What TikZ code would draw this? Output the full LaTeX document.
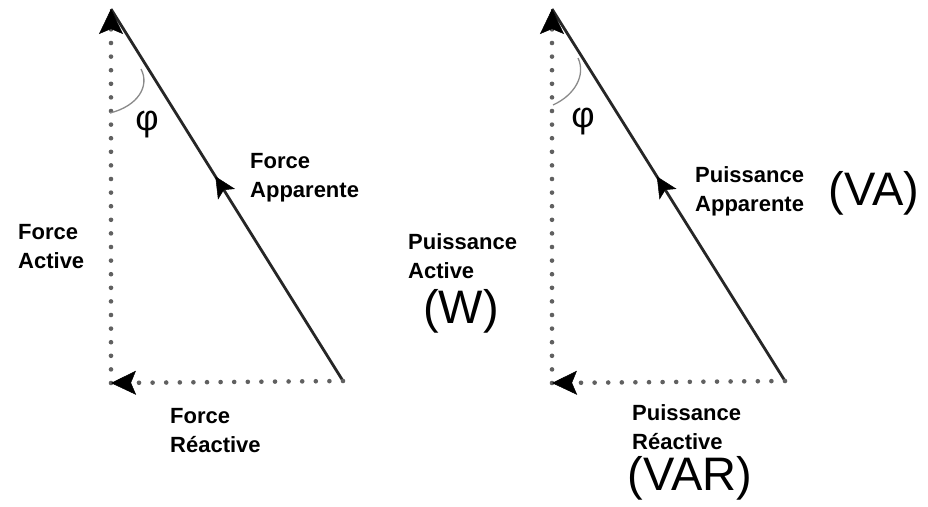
\documentclass[tikz,border=0pt]{standalone}
\usepackage{fontspec}
\setmainfont{Liberation Sans}
\usetikzlibrary{arrows.meta,decorations.markings}
\definecolor{dotgray}{HTML}{606060}
\definecolor{vecgray}{HTML}{262626}
\definecolor{arcgray}{HTML}{8A8A8A}
\begin{document}
\begin{tikzpicture}[x=1pt,y=-1pt,
 dots/.style={draw=dotgray, line width=4.6pt, line cap=round, dash pattern=on 0pt off 13.6pt},
 vec/.style={draw=vecgray, line width=2.8pt},
 tipend/.style={-{Stealth[length=25pt,width=24pt,inset=5pt,color=black,line width=0.5pt]}},
 lbl/.style={font=\fontsize{22}{29}\selectfont\bfseries, align=left, inner sep=0pt, anchor=west, text=black},
 unit/.style={font=\fontsize{47}{50}\selectfont, inner sep=0pt, text=black},
 phisym/.style={font=\fontsize{36}{40}\selectfont, inner sep=0pt, text=black},
 arcline/.style={draw=arcgray, line width=1.3pt},
 midarrow/.style={postaction={decorate}, decoration={markings, mark=at position 0.55 with {\arrow{Stealth[length=21pt,width=20pt,inset=5pt,color=black,line width=0.5pt]}}}}
]
\useasboundingbox[fill=white] (0,0) rectangle (928,506);

% left triangle
\coordinate (A) at (111,9);
\coordinate (B) at (111,383);
\coordinate (C) at (343,381);
\coordinate (a1) at (110,113);
\coordinate (a2) at (141,69);
\draw[vec, midarrow] (C) -- (A);
\draw[dots, tipend] (B) -- (A);
\draw[dots, tipend] (C) -- (B);
\draw[arcline] (a1) .. controls (138,106) and (150,86) .. (a2);

% right triangle
\coordinate (A2) at (552,9);
\coordinate (B2) at (552,383);
\coordinate (C2) at (785,381);
\coordinate (b1) at (553,105);
\coordinate (b2) at (578,58);
\draw[vec, midarrow] (C2) -- (A2);
\draw[dots, tipend] (B2) -- (A2);
\draw[dots, tipend] (C2) -- (B2);
\draw[arcline] (b1) .. controls (575,95) and (586,75) .. (b2);

% labels
\node[phisym] (phi1) at (147,125) {φ};
\node[phisym] (phi2) at (583,122) {φ};
\node[lbl] (fa) at (18,247) {Force\\Active};
\node[lbl] (fap) at (250,178) {Force\\Apparente};
\node[lbl] (fr) at (170,431) {Force\\Réactive};
\node[lbl] (pa) at (408,256) {Puissance\\Active};
\node[unit] (w) at (461,311) {(W)};
\node[lbl] (pap) at (695,191) {Puissance\\Apparente};
\node[unit] (va) at (874,193) {(VA)};
\node[lbl] (pr) at (632,427) {Puissance\\Réactive};
\node[unit] (var) at (690,478) {(VAR)};
\end{tikzpicture}
\end{document}
